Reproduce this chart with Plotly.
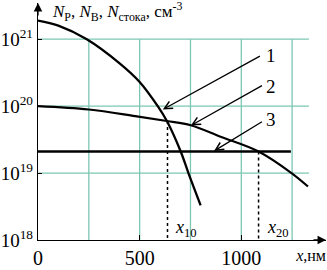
import plotly.graph_objects as go

# ---- data ----
x_p = [0, 100, 240, 400, 500, 589, 634, 702, 740, 800]
n_p = [1.9e21, 1.6e21, 1.0e21, 4.4e20, 2.3e20, 1.0e20, 6.0e19, 2.1e19, 1.0e19, 3.3e18]

x_b = [0, 250, 478, 634, 751, 898, 1085, 1247, 1328]
n_b = [1.0e20, 8.9e19, 7.1e19, 6.0e19, 5.2e19, 3.5e19, 2.1e19, 1.0e19, 6.3e18]

x_s = [0, 1244]
n_s = [2.1e19, 2.1e19]

x10 = 637
x20 = 1085
n_x10 = 6.0e19
n_x20 = 2.1e19

x_ticks = [0, 500, 1000]
x_ticktext = ["0", "500", "1000"]
y_ticks = [1e18, 1e19, 1e20, 1e21]
y_ticktext = ["10<sup>18</sup>", "10<sup>19</sup>", "10<sup>20</sup>", "10<sup>21</sup>"]
x_grid = [250, 500, 750, 1000, 1250]
y_grid = [1e19, 1e20, 1e21]
grid_xmax = 1333
x_unit_pos = [1343]
x_unit_text = ["<i>x</i>,нм"]

FONT = "Liberation Serif, Times New Roman, serif"
GRID = "#7CC7B4"
XRANGE = [0, 1416.7]

fig = go.Figure()

# grid
gx, gy = [], []
for v in x_grid:
    gx += [v, v, None]
    gy += [1e18, 1e21, None]
for v in y_grid:
    gx += [0, grid_xmax, None]
    gy += [v, v, None]
fig.add_trace(go.Scatter(x=gx, y=gy, mode="lines", line=dict(color=GRID, width=1.3),
                         hoverinfo="skip", showlegend=False))

# dotted lines
fig.add_trace(go.Scatter(x=[x10, x10], y=[n_x10, 1e18], mode="lines",
                         line=dict(color="black", width=1.5, dash="dot"), showlegend=False))
fig.add_trace(go.Scatter(x=[x20, x20], y=[n_x20, 1e18], mode="lines",
                         line=dict(color="black", width=1.5, dash="dot"), showlegend=False))

# curves
fig.add_trace(go.Scatter(x=x_p, y=n_p, mode="lines", line=dict(color="black", width=2.3, shape="spline"),
                         showlegend=False))
fig.add_trace(go.Scatter(x=x_b, y=n_b, mode="lines", line=dict(color="black", width=2.1, shape="spline"),
                         showlegend=False))
fig.add_trace(go.Scatter(x=x_s, y=n_s, mode="lines", line=dict(color="black", width=2.3),
                         showlegend=False))
# invisible trace to hold the unit-label axis
fig.add_trace(go.Scatter(x=x_unit_pos, y=[1e19], xaxis="x2", mode="markers",
                         marker=dict(opacity=0), hoverinfo="skip", showlegend=False))

ann = []
# label arrows (annotation coords on log axis are log10)
arrows = [
    ("1", (614, 19.95), (1099, 20.76), (1148, 20.76)),
    ("2", (752, 19.71), (1109, 20.32), (1148, 20.30)),
    ("3", (866, 19.33), (1109, 19.78), (1148, 19.80)),
]
for lab, tip, tail, lpos in arrows:
    ann.append(dict(x=tip[0], y=tip[1], ax=tail[0], ay=tail[1], xref="x", yref="y",
                    axref="x", ayref="y", text="", showarrow=True, arrowhead=5,
                    arrowsize=1.2, arrowwidth=1.3, arrowcolor="black"))
    ann.append(dict(x=lpos[0], y=lpos[1], xref="x", yref="y", text=lab, showarrow=False,
                    font=dict(family=FONT, size=19, color="black"), xanchor="center", yanchor="middle"))

# axis arrowheads
ann.append(dict(x=1, y=0, xref="paper", yref="paper", ax=-14, ay=0, text="", showarrow=True,
                arrowhead=2, arrowsize=1.3, arrowwidth=1.3, arrowcolor="black"))
ann.append(dict(x=0, y=1, xref="paper", yref="paper", ax=0, ay=14, text="", showarrow=True,
                arrowhead=2, arrowsize=1.3, arrowwidth=1.3, arrowcolor="black"))

# text labels
ann.append(dict(x=0.041, y=0.963, xref="paper", yref="paper", xanchor="left", yanchor="middle",
                text="<i>N</i><sub>P</sub>, <i>N</i><sub>B</sub>, <i>N</i><sub>стока</sub>, см<sup>-3</sup>",
                showarrow=False, font=dict(family=FONT, size=17, color="black")))
ann.append(dict(x=664, y=18.17, xref="x", yref="y", xanchor="left", yanchor="middle",
                text="<i>x</i><sub>10</sub>", showarrow=False, font=dict(family=FONT, size=18, color="black")))
ann.append(dict(x=1119, y=18.17, xref="x", yref="y", xanchor="left", yanchor="middle",
                text="<i>x</i><sub>20</sub>", showarrow=False, font=dict(family=FONT, size=18, color="black")))

fig.update_layout(
    width=327, height=270,
    margin=dict(l=36, r=1, t=3, b=25),
    paper_bgcolor="white", plot_bgcolor="white",
    annotations=ann,
    xaxis=dict(range=XRANGE, showgrid=False, zeroline=False, showline=True, linecolor="black",
               linewidth=1.4, ticks="inside", ticklen=5, tickcolor="black", tickwidth=1.2,
               tickvals=x_ticks, ticktext=x_ticktext,
               tickfont=dict(family=FONT, size=20, color="black")),
    xaxis2=dict(range=XRANGE, overlaying="x", anchor="y", side="bottom", showgrid=False,
                zeroline=False, showline=False, ticks="", tickvals=x_unit_pos, ticktext=x_unit_text,
                ticklabelstandoff=4, tickfont=dict(family=FONT, size=16, color="black")),
    yaxis=dict(type="log", range=[18, 21.541], showgrid=False, zeroline=False, showline=True,
               linecolor="black", linewidth=1.4, ticks="inside", ticklen=4, tickcolor="black",
               tickwidth=1.2, tickvals=y_ticks, ticktext=y_ticktext,
               tickfont=dict(family=FONT, size=19, color="black")),
)

fig.write_html("out.html", config={"displayModeBar": False},
               post_script="document.body.style.margin='0';document.body.style.padding='0';")
